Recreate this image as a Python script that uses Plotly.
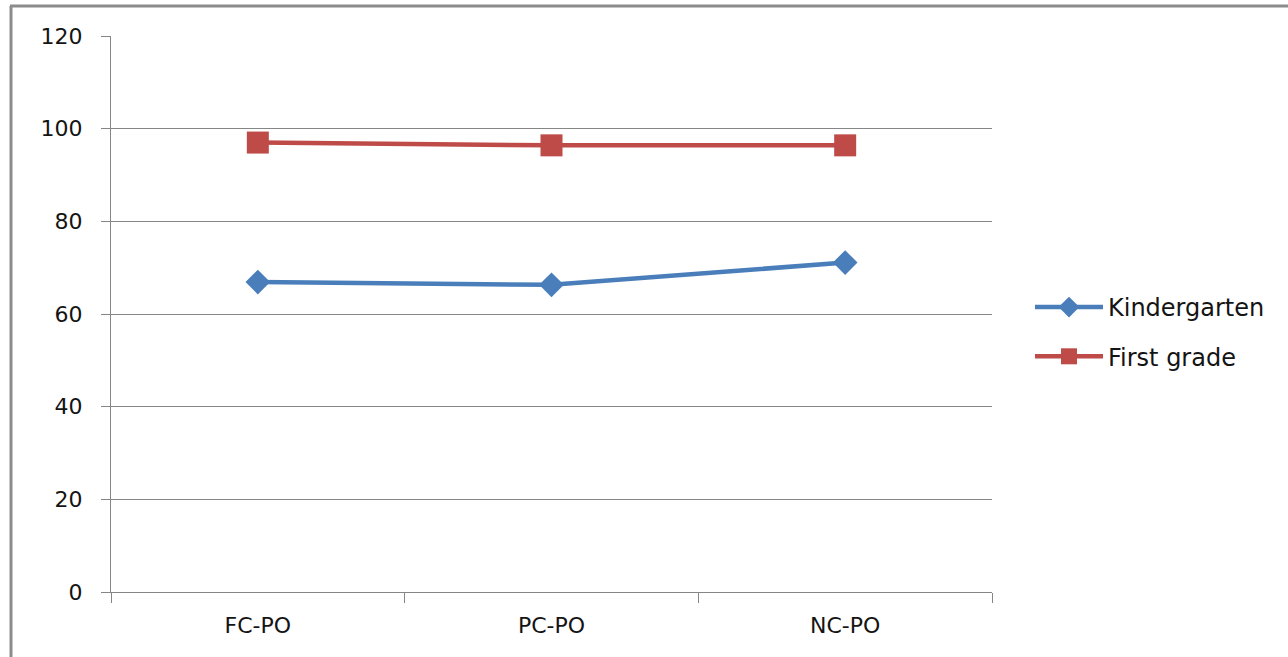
import plotly.graph_objects as go

categories = ["FC-PO", "PC-PO", "NC-PO"]
kindergarten = [66.9, 66.3, 71.1]
first_grade = [97.0, 96.4, 96.4]
y_ticks = [0, 20, 40, 60, 80, 100, 120]

FONT = "DejaVu Sans"
GRID = "#868686"

fig = go.Figure()
fig.add_trace(go.Scatter(
    x=categories, y=kindergarten, name="Kindergarten", mode="lines+markers",
    line=dict(color="#4A7EBB", width=4.5),
    marker=dict(symbol="diamond", size=19, color="#4A7EBB"),
    legendgroup="k",
))
fig.add_trace(go.Scatter(
    x=categories, y=first_grade, name="First grade", mode="lines+markers",
    line=dict(color="#BE4B48", width=4.5),
    marker=dict(symbol="square", size=22, color="#BE4B48"),
    legendgroup="f",
))

W, H = 1288, 657
L, R, T, B = 111, 296, 36, 65
pw, ph = W - L - R, H - T - B

def px(x):
    return (x - L) / pw

def py(y):
    return (H - B - y) / ph

# outer frame (top and left edges)
fig.add_shape(type="line", xref="paper", yref="paper",
              x0=px(10), x1=px(W), y0=py(6), y1=py(6),
              line=dict(color="#8C8C8C", width=3))
fig.add_shape(type="line", xref="paper", yref="paper",
              x0=px(11), x1=px(11), y0=py(6), y1=py(H),
              line=dict(color="#8C8C8C", width=3))

fig.update_layout(
    width=W, height=H,
    margin=dict(l=L, r=R, t=T, b=B, autoexpand=False),
    paper_bgcolor="white", plot_bgcolor="white",
    font=dict(family=FONT, size=22, color="#141414"),
    showlegend=True,
    legend=dict(x=px(1030), y=py(332), xanchor="left", yanchor="middle",
                font=dict(size=24), tracegroupgap=15, itemwidth=68),
    xaxis=dict(
        range=[-0.5, 2.5], showgrid=False, showline=True, linecolor=GRID,
        linewidth=1, ticks="outside", tickson="boundaries", ticklen=10,
        tickcolor=GRID, zeroline=False, ticklabelstandoff=14,
    ),
    yaxis=dict(
        range=[0, 120], tickvals=y_ticks, showgrid=True, gridcolor=GRID,
        gridwidth=1, showline=True, linecolor=GRID, linewidth=1,
        ticks="outside", ticklen=9, tickcolor=GRID, zeroline=False,
        ticklabelstandoff=14,
    ),
)

fig.write_html("out.html")
